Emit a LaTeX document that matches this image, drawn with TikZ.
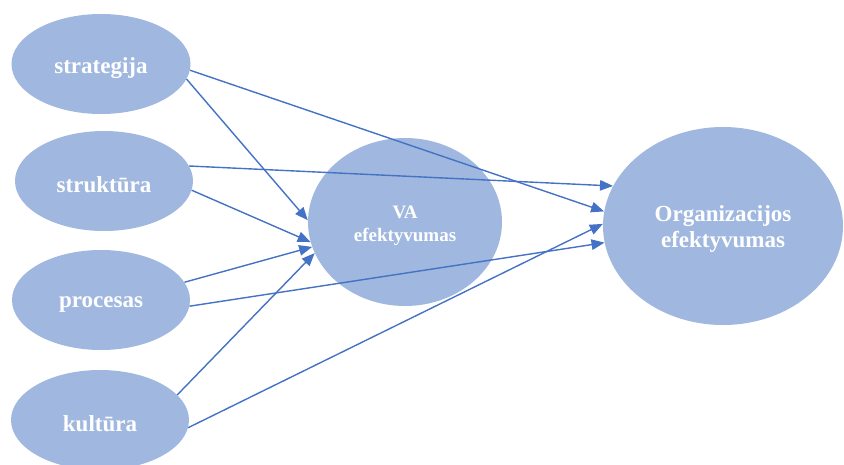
\documentclass[tikz,border=0pt]{standalone}
\usepackage{fontspec}
\setmainfont{Liberation Serif}
\usetikzlibrary{shapes.geometric,arrows.meta}
\definecolor{bubble}{RGB}{160,184,223}
\definecolor{linkblue}{RGB}{68,114,196}
\tikzset{
  bubble/.style={ellipse, fill=bubble, draw=none, inner sep=0pt, text=white,
    font=\bfseries\fontsize{23}{27}\selectfont, align=center},
  link/.style={draw=linkblue, line width=1.4pt,
    -{Triangle[length=13pt,width=10.5pt]}}
}
% drop the text a little while keeping the box size, so the ellipse stays put
\newcommand{\lowered}[2][4pt]{\raisebox{-#1}[\height][\depth]{#2}}
\begin{document}
\begin{tikzpicture}[x=1pt,y=-1pt]
\useasboundingbox (0,0) rectangle (844,464);
% input factors
\node[bubble, minimum width=179pt, minimum height=100pt] (s) at (101,64) {\lowered{strategija}};
\node[bubble, minimum width=178pt, minimum height=100pt] (t) at (104,181) {\lowered{struktūra}};
\node[bubble, minimum width=178pt, minimum height=100pt] (p) at (101,300) {\lowered{procesas}};
\node[bubble, minimum width=178pt, minimum height=100pt] (k) at (100,420) {\lowered{kultūra}};
% mediator and outcome
\node[bubble, minimum width=194pt, minimum height=168pt,
      font=\bfseries\fontsize{19}{23}\selectfont] (v) at (405,222)
      {\lowered[3pt]{\begin{tabular}{@{}c@{}}VA\\efektyvumas\end{tabular}}};
\node[bubble, minimum width=240pt, minimum height=198pt,
      font=\bfseries\fontsize{23}{26}\selectfont] (o) at (723,226)
      {\lowered[3pt]{\begin{tabular}{@{}c@{}}Organizacijos\\efektyvumas\end{tabular}}};
% links to the mediator
\draw[link] (s.-10) -- (v.179);
\draw[link] (t.-6) -- (v.192);
\draw[link] (p.12) -- (v.195);
\draw[link] (k.18) -- (v.199);
% links to the outcome
\draw[link] (s.-4) -- (o.173.6);
\draw[link] (t.10) -- (o.160);
\draw[link] (p.-4.4) -- (o.188);
\draw[link] (k.-5.3) -- (o.179.5);
\end{tikzpicture}
\end{document}
